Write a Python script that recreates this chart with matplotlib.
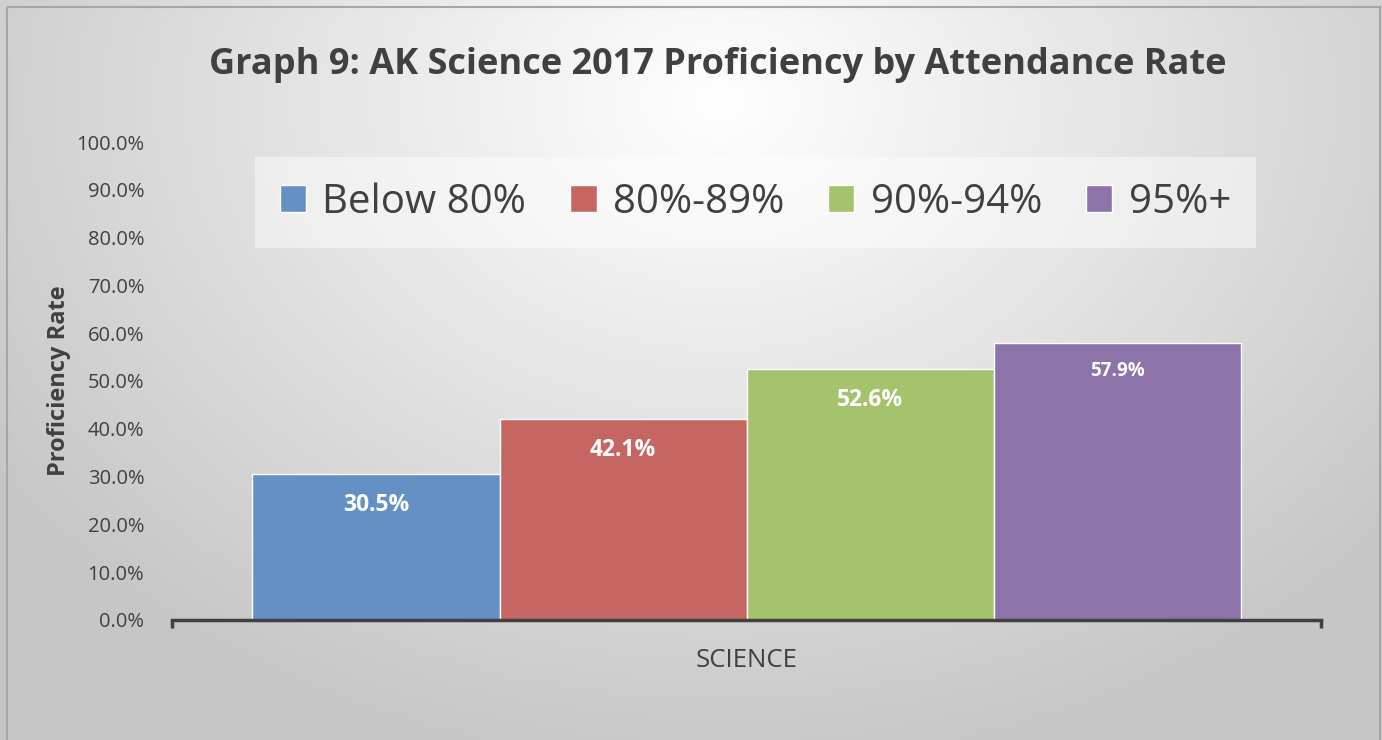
import numpy as np
import matplotlib.pyplot as plt
from matplotlib.patches import Rectangle

# data
groups = ['Below 80%', '80%-89%', '90%-94%', '95%+']
rates = [30.5, 42.1, 52.6, 57.9]
colors = ['#6590c4', '#c66662', '#a5c26d', '#8c74aa']
category = 'SCIENCE'
yticks = [0, 10, 20, 30, 40, 50, 60, 70, 80, 90, 100]

plt.rcParams['font.family'] = ['Open Sans', 'DejaVu Sans']

fig = plt.figure(figsize=(13.82, 7.4), dpi=100)

# radial grey background
bg = fig.add_axes([0, 0, 1, 1], zorder=-10)
xx, yy = np.meshgrid(np.linspace(0, 1382, 400), np.linspace(0, 740, 220))
d = np.sqrt(((xx - 720) / 1100) ** 2 + ((yy - 100) / 850) ** 2)
shade = np.clip(1.0 - 0.28 * d, 0.78, 1.0)
bg.imshow(np.dstack([shade] * 3), extent=[0, 1382, 740, 0], aspect='auto')
bg.add_patch(Rectangle((7, 7), 1373, 760, fill=False, edgecolor='#a6a6a6', lw=1.5))
bg.set_xlim(0, 1382)
bg.set_ylim(740, 0)
bg.axis('off')

ax = fig.add_axes([0.1245, 0.1622, 0.8314, 0.6459])
ax.patch.set_alpha(0)

width = 0.215
offsets = (np.arange(len(groups)) - 1.5) * width
bars = ax.bar(offsets, rates, width=width, color=colors, edgecolor='white',
              linewidth=1)
for b, g in zip(bars, groups):
    b.set_label(g)

for i, (x, v) in enumerate(zip(offsets, rates)):
    fs = 13.5 if i == 3 else 16.5
    ax.text(x, v - 6.5 if i < 3 else v - 5.8, f'{v:.1f}%', ha='center', va='center',
            color='white', fontsize=fs, fontweight='bold')

ax.set_xlim(-0.5, 0.5)
ax.set_ylim(0, 100)
ax.set_yticks(yticks)
ax.set_yticklabels([f'{t:.1f}%' for t in yticks], fontsize=14.5, color='#404040')
ax.tick_params(axis='y', length=0, pad=20)
ax.set_xticks([])
for s in ['top', 'right', 'left']:
    ax.spines[s].set_visible(False)
ax.spines['bottom'].set_color('#404040')
ax.spines['bottom'].set_linewidth(2.5)
for xe in (-0.5, 0.5):
    ax.plot([xe, xe], [0, -1.6], color='#404040', lw=2.5, clip_on=False,
            solid_capstyle='butt')

ax.text(0, -8.5, category, ha='center', va='center', fontsize=18.5, color='#404040')
ax.set_ylabel('Proficiency Rate', fontsize=17, fontweight='bold', color='#404040',
              labelpad=4)

leg = ax.legend(ncol=4, loc='center', bbox_to_anchor=(0.5077, 0.8734),
                fontsize=29, frameon=True, facecolor='white', edgecolor='none',
                framealpha=0.45, handlelength=0.65, handleheight=0.65,
                handletextpad=0.4, columnspacing=1.1, borderpad=0.62,
                fancybox=False, labelcolor='#404040')

fig.text(0.5195, 0.912, 'Graph 9: AK Science 2017 Proficiency by Attendance Rate',
         ha='center', va='center', fontsize=26, fontweight='bold', color='#404040')

fig.savefig('out.png', dpi=100)
